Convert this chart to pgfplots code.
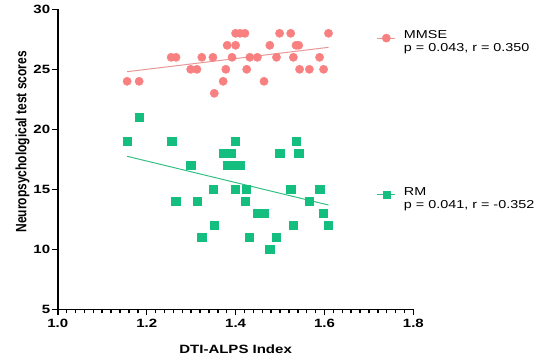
\documentclass[border=0pt]{standalone}
\usepackage{fontspec}
\setmainfont{Liberation Sans}[FakeStretch=1.25]
\newfontfamily\ylabfont{Liberation Sans}
\usepackage{graphicx}
\usepackage{pgfplots}
\pgfplotsset{compat=1.18}
\definecolor{pinkc}{RGB}{248,128,128}
\definecolor{greenc}{RGB}{20,190,126}
\definecolor{pinkl}{RGB}{232,150,150}
\definecolor{greenl}{RGB}{50,192,132}
\newcommand\tickfont{\fontsize{12bp}{13bp}\selectfont\bfseries}
\newcommand\legfont{\fontsize{11.5bp}{13bp}\selectfont}

\pgfplotstableread{
x y
1.156 24
1.183 24
1.255 26
1.266 26
1.299 25
1.313 25
1.324 26
1.349 26
1.352 23
1.372 24
1.378 25
1.381 27
1.392 26
1.400 27
1.400 28
1.410 28
1.421 28
1.425 25
1.432 26
1.449 26
1.464 24
1.477 27
1.492 26
1.499 28
1.524 28
1.530 26
1.536 27
1.542 27
1.544 25
1.566 25
1.589 26
1.598 25
1.609 28
}\mmse

\pgfplotstableread{
x y
1.183 21
1.156 19
1.256 19
1.399 19
1.536 19
1.372 18
1.390 18
1.499 18
1.542 18
1.381 17
1.395 17
1.409 17
1.299 17
1.349 15
1.399 15
1.424 15
1.524 15
1.589 15
1.265 14
1.313 14
1.422 14
1.566 14
1.449 13
1.465 13
1.597 13
1.352 12
1.530 12
1.609 12
1.324 11
1.431 11
1.492 11
1.477 10
}\rm

\begin{document}
\begin{tikzpicture}
\pgfplotsset{
  base/.style={
    scale only axis, width=355.6bp, height=300bp,
    xmin=1.0, xmax=1.8, ymin=5, ymax=30,
    clip=false,
    legend style={draw=none, fill=none, font=\legfont, inner sep=0pt,
      outer sep=0pt, anchor=west},
    legend cell align=left,
  },
}
\begin{axis}[base,
  axis x line*=bottom, axis y line*=left,
  axis line style={line width=1.6bp, black},
  xtick={1.0,1.2,1.4,1.6,1.8},
  minor x tick num=9,
  ytick={5,10,15,20,25,30},
  tick align=outside,
  major tick length=6bp, minor tick length=4bp,
  tick style={black, line width=1.5bp},
  xticklabel style={/pgf/number format/.cd, fixed, fixed zerofill, precision=1},
  ticklabel style={font=\tickfont},
  yticklabel style={inner sep=1.5bp},
  /pgf/number format/assume math mode=true,
  xlabel={DTI-ALPS Index},
  xlabel style={font=\fontsize{12bp}{14bp}\selectfont\bfseries,
    at={(axis description cs:0.5,-0.1467)}, anchor=base},
  ylabel={\scalebox{1}[1.25]{\ylabfont\fontsize{12bp}{14bp}\selectfont\bfseries Neuropsychological test scores}},
  ylabel style={at={(axis description cs:-0.0993,0.558)}, anchor=center},
  legend style={at={(0.8968,0.904)}},
]
\addplot[pinkl, line width=1bp, forget plot] coordinates {(1.156,24.80) (1.609,26.83)};
\addplot[only marks, mark=*, mark size=4.15bp, mark options={draw=pinkc, fill=pinkc},
  legend image code/.code={\draw[pinkl, line width=1bp] (0bp,0bp) -- (18.3bp,0bp);
    \fill[pinkc] (9.15bp,0bp) circle (4.15bp);}
  ] table {\mmse};
\addlegendentry{\begin{tabular}{@{\hspace{6bp}}l@{}}MMSE\\p = 0.043, r = 0.350\end{tabular}}
\end{axis}
\begin{axis}[base, hide axis,
  legend style={at={(0.8968,0.381)}},
]
\addplot[greenl, line width=1bp, forget plot] coordinates {(1.156,17.75) (1.609,13.69)};
\addplot[only marks, mark=square*, mark size=4.15bp, mark options={draw=greenc, fill=greenc},
  legend image code/.code={\draw[greenl, line width=1bp] (0bp,0bp) -- (18.3bp,0bp);
    \fill[greenc] (5.8bp,-3.5bp) rectangle (12.8bp,3.5bp);}
  ] table {\rm};
\addlegendentry{\begin{tabular}{@{\hspace{6bp}}l@{}}RM\\p = 0.041, r = -0.352\end{tabular}}
\end{axis}
\pgfresetboundingbox
\path (-57.8bp,-50.7bp) rectangle (480.2bp,309.3bp);
\end{tikzpicture}
\end{document}
